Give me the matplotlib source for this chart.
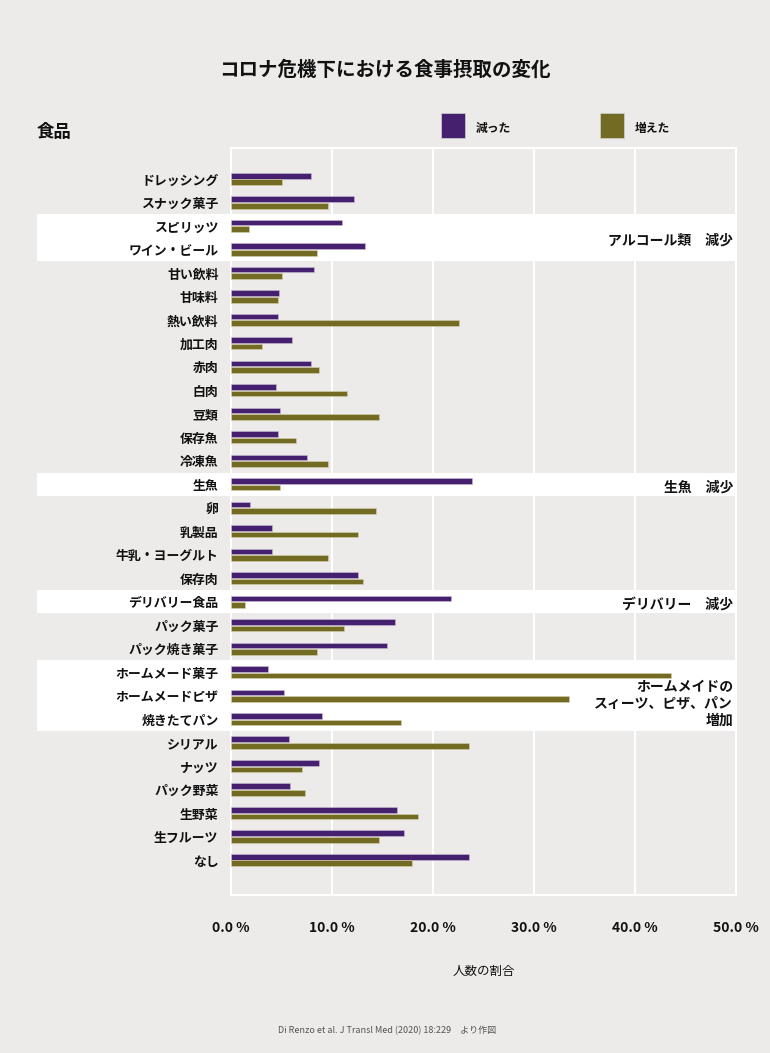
import numpy as np
import matplotlib
matplotlib.use('Agg')
import matplotlib.pyplot as plt
from matplotlib.patches import Rectangle

plt.rcParams['font.family'] = ['Noto Sans CJK JP', 'DejaVu Sans']

# データ (図から読み取り, %)
foods = ['ドレッシング', 'スナック菓子', 'スピリッツ', 'ワイン・ビール', '甘い飲料', '甘味料',
         '熱い飲料', '加工肉', '赤肉', '白肉', '豆類', '保存魚', '冷凍魚', '生魚', '卵',
         '乳製品', '牛乳・ヨーグルト', '保存肉', 'デリバリー食品', 'パック菓子', 'パック焼き菓子',
         'ホームメード菓子', 'ホームメードピザ', '焼きたてパン', 'シリアル', 'ナッツ',
         'パック野菜', '生野菜', '生フルーツ', 'なし']
decreased = [7.9, 12.2, 11.0, 13.3, 8.2, 4.75, 4.65, 6.0, 7.95, 4.45, 4.9, 4.65, 7.5, 23.9, 1.9,
             4.1, 4.1, 12.6, 21.8, 16.2, 15.45, 3.7, 5.2, 9.05, 5.7, 8.75, 5.85, 16.4, 17.1, 23.6]
increased = [5.05, 9.6, 1.8, 8.5, 5.05, 4.65, 22.6, 3.05, 8.7, 11.5, 14.7, 6.4, 9.6, 4.9, 14.35,
             12.6, 9.6, 13.05, 1.4, 11.2, 8.5, 43.6, 33.5, 16.8, 23.6, 7.0, 7.35, 18.5, 14.7, 17.9]
xticks = [0, 10, 20, 30, 40, 50]

# 強調する行 (最初の行, 最後の行, 注記)
highlights = [(2, 3, 'アルコール類　減少'),
              (13, 13, '生魚　減少'),
              (18, 18, 'デリバリー　減少'),
              (21, 23, 'ホームメイドの\nスィーツ、ピザ、パン\n増加')]

bg = '#ecebe9'
purple = '#45206f'
olive = '#736a23'

fig = plt.figure(figsize=(7.7, 10.53), dpi=100, facecolor=bg)
ax = fig.add_axes([231/770, 1-895/1053, 505/770, 747/1053])
ax.set_facecolor(bg)

y = np.arange(len(foods))
off = 0.14
h = 0.24
ax.barh(y - off, decreased, height=h, color=purple, edgecolor='#c9bfd6', linewidth=0.4, zorder=3)
ax.barh(y + off, increased, height=h, color=olive, edgecolor='#d8d3b0', linewidth=0.4, zorder=3)

ax.set_xlim(0, 50)
ax.set_ylim(30.49, -1.32)

x0 = (37 - 231) / 505
for a, b, label in highlights:
    ax.add_patch(Rectangle((x0, a - 0.5), 1 - x0, b - a + 1, transform=ax.get_yaxis_transform(),
                           facecolor='white', edgecolor='none', clip_on=False, zorder=1))
    yc = (a + b) / 2 + (0.12 if b - a < 2 else 0.35)
    ax.text(0.994, yc, label, transform=ax.get_yaxis_transform(), ha='right', va='center',
            fontsize=10, fontweight='bold', color='#111111', linespacing=1.25, zorder=4)

ax.set_xticks(xticks)
ax.set_xticklabels(['%.1f %%' % v for v in xticks], fontsize=10, fontweight='bold', color='#111111')
ax.tick_params(axis='x', length=0, pad=19)
ax.set_yticks(y)
ax.set_yticklabels(foods, fontsize=9.3, fontweight='bold', color='#111111')
ax.tick_params(axis='y', length=0, pad=9)
ax.grid(axis='x', color='white', linewidth=1.5, zorder=2)
ax.set_axisbelow(True)
ax.yaxis.set_zorder(5)
for s in ax.spines.values():
    s.set_color('white')
    s.set_linewidth(1.5)
ax.set_xlabel('人数の割合', fontsize=9, labelpad=21, color='#111111')

fig.text(0.5, 1 - 70/1053, 'コロナ危機下における食事摂取の変化', ha='center', va='center',
         fontsize=14, fontweight='bold', color='#111111')
fig.text(37/770, 1 - 132/1053, '食品', ha='left', va='center', fontsize=12.5, fontweight='bold', color='#111111')

# 凡例
for xs, col, lab in [(441, purple, '減った'), (600, olive, '増えた')]:
    fig.patches.append(Rectangle((xs/770, 1 - 138/1053), 24/770, 25/1053, transform=fig.transFigure,
                                 facecolor=col, edgecolor='#d0d0d0', linewidth=0.5))
    fig.text((xs + 35)/770, 1 - 128/1053, lab, ha='left', va='center', fontsize=8.5,
             fontweight='bold', color='#111111')

fig.text(278/770, 1 - 1031/1053, 'Di Renzo et al. J Transl Med (2020) 18:229　より作図', ha='left', va='center',
         fontsize=6.5, color='#555555')

plt.savefig('out.png', dpi=100, facecolor=bg)
